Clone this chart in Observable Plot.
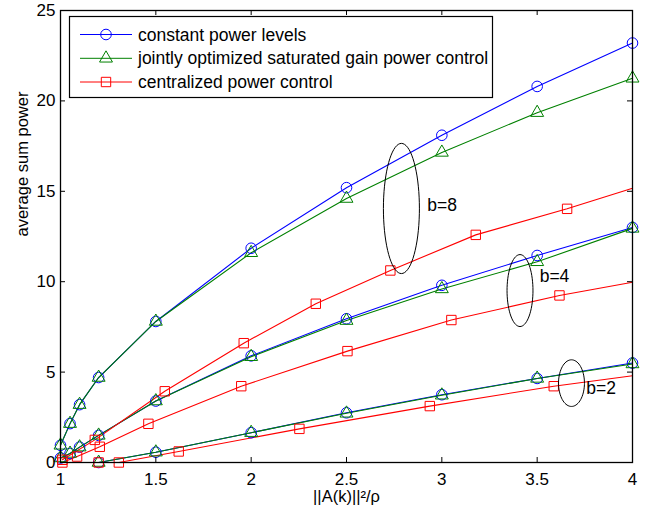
<!DOCTYPE html>
<html>
<head>
<meta charset="utf-8">
<script src="https://cdn.jsdelivr.net/npm/d3@7"></script>
<script src="https://cdn.jsdelivr.net/npm/@observablehq/plot@0.6"></script>
<style>
  html, body { margin: 0; padding: 0; background: white; }
  #chart { width: 651px; height: 515px; }
</style>
</head>
<body>
<div id="chart"></div>
<script>
// ---- data ----
const seriesNames = ["constant power levels", "jointly optimized saturated gain power control", "centralized power control"];
const seriesColors = ["#0000ff", "#008000", "#ff0000"];
const xTicks = [1, 1.5, 2, 2.5, 3, 3.5, 4];
const yTicks = [0, 5, 10, 15, 20, 25];

const xB84 = [1, 1.05, 1.1, 1.2, 1.5, 2, 2.5, 3, 3.5, 4];
const constB8 = [0.95, 2.15, 3.2, 4.7, 7.8, 11.85, 15.2, 18.1, 20.8, 23.2];
const jointB8 = [0.95, 2.15, 3.2, 4.7, 7.8, 11.6, 14.6, 17.15, 19.35, 21.25];
const constB4 = [0.25, 0.5, 0.85, 1.5, 3.4, 5.9, 7.95, 9.8, 11.45, 13.0];
const jointB4 = [0.25, 0.5, 0.85, 1.5, 3.4, 5.85, 7.85, 9.6, 11.1, 12.95];
const xB2 = [1.2, 1.5, 2, 2.5, 3, 3.5, 4];
const constB2 = [0, 0.57, 1.65, 2.75, 3.75, 4.65, 5.5];
const jointB2 = [0, 0.57, 1.65, 2.72, 3.72, 4.65, 5.45];

const redB8x = [1.01, 1.18, 1.547, 1.961, 2.339, 2.73, 3.178, 3.657, 4];
const redB8y = [0.15, 1.25, 3.94, 6.6, 8.78, 10.62, 12.59, 14.03, 15.17];
const redB4x = [1.01, 1.087, 1.206, 1.461, 1.948, 2.505, 3.05, 3.617, 4];
const redB4y = [0, 0.33, 0.87, 2.14, 4.22, 6.16, 7.88, 9.24, 9.97];
const redB2x = [1.2, 1.306, 1.62, 2.253, 2.937, 3.587, 4];
const redB2y = [0, 0, 0.61, 1.86, 3.12, 4.22, 4.8];

// annotations: ellipses (centre / radii in data units) and labels
const annLabels = ["b=8", "b=4", "b=2"];
const annCx = [2.788, 3.41, 3.68];
const annCy = [14.05, 9.51, 4.39];
const annRx = [0.0944, 0.068, 0.068];
const annRy = [3.6, 1.99, 1.29];
const annTx = [2.924, 3.513, 3.758];
const annTy = [14.2, 10.29, 4.08];

// ---- build tables ----
const rows = [];
function add(series, b, xs, ys, markLast) {
  xs.forEach((x, i) => rows.push({series, key: series + b, x, y: ys[i], marker: markLast || i < xs.length - 1}));
}
add(seriesNames[0], 8, xB84, constB8, true);
add(seriesNames[0], 4, xB84, constB4, true);
add(seriesNames[0], 2, xB2, constB2, true);
add(seriesNames[1], 8, xB84, jointB8, true);
add(seriesNames[1], 4, xB84, jointB4, true);
add(seriesNames[1], 2, xB2, jointB2, true);
add(seriesNames[2], 8, redB8x, redB8y, false);
add(seriesNames[2], 4, redB4x, redB4y, false);
add(seriesNames[2], 2, redB2x, redB2y, false);

const ann = annLabels.map((label, i) => ({label, tx: annTx[i], ty: annTy[i]}));
const ellipsePts = [];
annLabels.forEach((label, i) => {
  d3.range(72).forEach(k => {
    const t = 2 * Math.PI * k / 72;
    ellipsePts.push({label, x: annCx[i] + annRx[i] * Math.cos(t), y: annCy[i] + annRy[i] * Math.sin(t)});
  });
});

const font = "'Liberation Sans', Arial, Helvetica, sans-serif";

const chart = Plot.plot({
  width: 651,
  height: 515,
  marginLeft: 60,
  marginRight: 19,
  marginTop: 10,
  marginBottom: 53,
  style: {fontFamily: font, fontSize: "17px", background: "white", color: "black"},
  x: {domain: [1, 4]},
  y: {domain: [0, 25]},
  color: {domain: seriesNames, range: seriesColors},
  marks: [
    // lines
    Plot.line(rows, {x: "x", y: "y", z: "key", stroke: "series", strokeWidth: 1.1}),
    // markers
    Plot.dot(rows.filter(d => d.marker && d.series === seriesNames[0]), {x: "x", y: "y", symbol: "circle", r: 5.3, stroke: "series", fill: "none", strokeWidth: 1}),
    Plot.dot(rows.filter(d => d.marker && d.series === seriesNames[1]), {x: "x", y: "y", symbol: "triangle", r: 4.8, stroke: "series", fill: "none", strokeWidth: 1}),
    Plot.dot(rows.filter(d => d.marker && d.series === seriesNames[2]), {x: "x", y: "y", symbol: "square", r: 5.3, stroke: "series", fill: "none", strokeWidth: 1}),
    // annotations
    Plot.line(ellipsePts, {x: "x", y: "y", z: "label", stroke: "black", strokeWidth: 1, curve: "linear-closed"}),
    Plot.text(ann, {x: "tx", y: "ty", text: "label", textAnchor: "start", fontSize: 17.5, fill: "black"}),
    // inward ticks
    Plot.ruleX(xTicks, {x: d => d, y1: 0, y2: 0, insetBottom: 5, stroke: "black"}),
    Plot.ruleX(xTicks, {x: d => d, y1: 25, y2: 25, insetBottom: -5, stroke: "black"}),
    Plot.ruleY(yTicks, {y: d => d, x1: 1, x2: 1, insetRight: -5, stroke: "black"}),
    Plot.ruleY(yTicks, {y: d => d, x1: 4, x2: 4, insetRight: 5, stroke: "black"}),
    // tick labels
    Plot.axisX({ticks: xTicks, tickSize: 0, tickPadding: 10, tickFormat: d => String(d), label: null}),
    Plot.axisY({ticks: yTicks, tickSize: 0, tickPadding: 5, tickFormat: d => String(d), label: null}),
    // axis titles
    Plot.text(["average sum power"], {text: d => d, frameAnchor: "left", rotate: -90, dx: -38, fontSize: 16.5, fill: "black"}),
    Plot.text(["||A(k)||\u00B2/\u03C1"], {text: d => d, frameAnchor: "bottom", lineAnchor: "middle", dy: 34, fontSize: 16.5, fill: "black"}),
    Plot.frame({stroke: "black", strokeWidth: 1.3})
  ]
});

// legend inside the axes (top-left)
const svg = d3.select(chart);
const lg = svg.append("g").attr("font-family", font).attr("font-size", 17.5).attr("text-anchor", "start");
lg.append("rect").attr("x", 69.5).attr("y", 16.5).attr("width", 423).attr("height", 81)
  .attr("fill", "white").attr("stroke", "black").attr("stroke-width", 1.2);
const legSymbols = [d3.symbolCircle, d3.symbolTriangle, d3.symbolSquare];
const legR = [5.3, 4.8, 5.3];
const legY = [34.5, 58.3, 82];
seriesNames.forEach((name, i) => {
  const y = legY[i];
  lg.append("line").attr("x1", 80).attr("x2", 132).attr("y1", y).attr("y2", y)
    .attr("stroke", seriesColors[i]).attr("stroke-width", 1);
  lg.append("path").attr("transform", `translate(106,${y})`)
    .attr("d", d3.symbol(legSymbols[i], Math.PI * legR[i] * legR[i])())
    .attr("fill", "none").attr("stroke", seriesColors[i]).attr("stroke-width", 1);
  lg.append("text").attr("x", 138).attr("y", y).attr("dy", "0.35em").attr("fill", "black")
    .attr("text-anchor", "start").text(name);
});

document.getElementById("chart").appendChild(chart);
</script>
</body>
</html>
